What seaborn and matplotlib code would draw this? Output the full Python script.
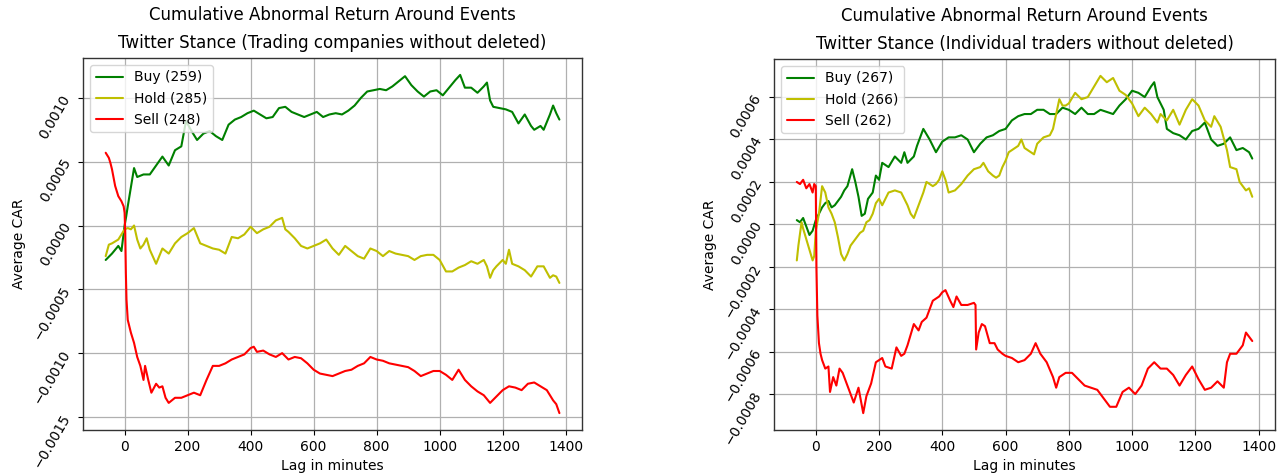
import matplotlib
matplotlib.use("Agg")
import matplotlib.pyplot as plt
import numpy as np
import pandas as pd
import seaborn as sns
from matplotlib.ticker import MultipleLocator


TITLE_TOP = "Cumulative Abnormal Return Around Events"
PANEL_TITLES = [
  "Twitter Stance (Trading companies without deleted)",
  "Twitter Stance (Individual traders without deleted)",
]
STANCES = ["Buy", "Hold", "Sell"]
COUNTS_LEFT = [259, 285, 248]
COUNTS_RIGHT = [267, 266, 262]
COLORS = ["g", "y", "r"]

# ---- left panel: trading companies ----
left_buy_x = [-60, -40, -20, -10, 0, 5, 10, 20, 30, 40, 60, 80, 100, 120, 140, 160, 180, 195,
              210, 230, 250, 270, 290, 310, 330, 350, 370, 390, 410, 430, 450, 470, 490, 510,
              530, 550, 570, 590, 610, 630, 650, 670, 690, 710, 730, 750, 770, 790, 810, 830,
              850, 870, 890, 910, 930, 950, 970, 990, 1010, 1030, 1050, 1065, 1080, 1100, 1120,
              1140, 1150, 1160, 1170, 1190, 1210, 1230, 1250, 1270, 1290, 1300, 1320, 1330,
              1350, 1360, 1370, 1380]
left_buy_y = [-0.00027, -0.00022, -0.00016, -0.00020, 0.00000, 0.00007, 0.00015, 0.00030,
              0.00045, 0.00038, 0.00040, 0.00040, 0.00047, 0.00054, 0.00047, 0.00059, 0.00062,
              0.00082, 0.00075, 0.00067, 0.00072, 0.00074, 0.00070, 0.00067, 0.00079, 0.00083,
              0.00085, 0.00088, 0.00090, 0.00087, 0.00084, 0.00085, 0.00092, 0.00093, 0.00089,
              0.00087, 0.00085, 0.00087, 0.00089, 0.00085, 0.00087, 0.00088, 0.00087, 0.00090,
              0.00094, 0.00100, 0.00105, 0.00106, 0.00107, 0.00106, 0.00109, 0.00113, 0.00117,
              0.00110, 0.00105, 0.00101, 0.00105, 0.00106, 0.00102, 0.00108, 0.00114, 0.00118,
              0.00108, 0.00108, 0.00104, 0.00109, 0.00112, 0.00098, 0.00093, 0.00092, 0.00091,
              0.00089, 0.00080, 0.00087, 0.00078, 0.00075, 0.00078, 0.00075, 0.00087, 0.00094,
              0.00088, 0.00083]

left_hold_x = [-60, -50, -40, -20, -10, 0, 10, 20, 30, 40, 50, 60, 70, 80, 100, 120, 140, 160,
               180, 200, 220, 240, 260, 280, 300, 320, 340, 360, 380, 400, 420, 440, 460, 480,
               500, 510, 520, 540, 560, 580, 600, 620, 640, 660, 680, 700, 720, 740, 760, 780,
               800, 820, 840, 860, 880, 900, 920, 940, 960, 980, 1000, 1020, 1040, 1060, 1080,
               1100, 1120, 1140, 1150, 1160, 1170, 1180, 1200, 1210, 1220, 1230, 1250, 1270,
               1290, 1310, 1330, 1350, 1360, 1370, 1380]
left_hold_y = [-0.00024, -0.00015, -0.00014, -0.00011, -0.00007, -0.00003, -0.00002, -0.00003,
               0.00000, -0.00011, -0.00018, -0.00015, -0.00010, -0.00019, -0.00030, -0.00018,
               -0.00022, -0.00014, -0.00009, -0.00006, -0.00002, -0.00014, -0.00016, -0.00018,
               -0.00019, -0.00022, -0.00009, -0.00010, -0.00007, -0.00001, -0.00006, -0.00003,
               -0.00001, 0.00004, 0.00006, -0.00003, -0.00005, -0.00010, -0.00016, -0.00018,
               -0.00016, -0.00014, -0.00011, -0.00018, -0.00023, -0.00016, -0.00020, -0.00024,
               -0.00026, -0.00018, -0.00020, -0.00024, -0.00020, -0.00022, -0.00023, -0.00024,
               -0.00027, -0.00024, -0.00023, -0.00023, -0.00027, -0.00036, -0.00036, -0.00033,
               -0.00031, -0.00028, -0.00030, -0.00027, -0.00032, -0.00041, -0.00035, -0.00032,
               -0.00027, -0.00030, -0.00019, -0.00030, -0.00032, -0.00035, -0.00040, -0.00032,
               -0.00032, -0.00041, -0.00039, -0.00040, -0.00045]

left_sell_x = [-60, -55, -50, -45, -40, -30, -20, -10, -3, 0, 2, 4, 6, 10, 15, 20, 30, 40, 50,
               60, 65, 75, 85, 100, 110, 120, 130, 140, 160, 180, 200, 220, 240, 260, 280, 300,
               320, 340, 360, 380, 400, 410, 420, 440, 460, 480, 500, 520, 540, 560, 580, 600,
               620, 640, 660, 680, 700, 720, 740, 760, 780, 800, 820, 840, 860, 880, 900, 920,
               940, 960, 980, 1000, 1020, 1040, 1060, 1080, 1100, 1120, 1140, 1160, 1180, 1200,
               1220, 1240, 1260, 1280, 1300, 1320, 1340, 1360, 1370, 1380]
left_sell_y = [0.00057, 0.00055, 0.00053, 0.00049, 0.00044, 0.00031, 0.00023, 0.00019, 0.00015,
               0.00010, -0.00006, -0.00037, -0.00058, -0.00074, -0.00079, -0.00084, -0.00092,
               -0.00103, -0.00110, -0.00121, -0.00110, -0.00121, -0.00131, -0.00124, -0.00127,
               -0.00126, -0.00135, -0.00139, -0.00135, -0.00135, -0.00133, -0.00131, -0.00133,
               -0.00121, -0.00110, -0.00110, -0.00108, -0.00105, -0.00103, -0.00101, -0.00096,
               -0.00095, -0.00099, -0.00098, -0.00101, -0.00103, -0.00100, -0.00105, -0.00103,
               -0.00104, -0.00108, -0.00113, -0.00116, -0.00117, -0.00118, -0.00116, -0.00114,
               -0.00113, -0.00110, -0.00108, -0.00103, -0.00105, -0.00106, -0.00108, -0.00109,
               -0.00110, -0.00111, -0.00114, -0.00118, -0.00116, -0.00114, -0.00114, -0.00117,
               -0.00121, -0.00113, -0.00121, -0.00126, -0.00130, -0.00133, -0.00139, -0.00134,
               -0.00129, -0.00126, -0.00127, -0.00129, -0.00124, -0.00123, -0.00126, -0.00129,
               -0.00137, -0.00140, -0.00147]

# ---- right panel: individual traders ----
right_buy_x = [-60, -50, -40, -30, -20, -10, 0, 10, 20, 30, 40, 50, 60, 70, 80, 90, 100, 115,
               125, 135, 145, 155, 165, 180, 190, 200, 210, 230, 250, 270, 280, 290, 310, 320,
               340, 360, 380, 400, 420, 440, 460, 480, 500, 520, 540, 560, 580, 600, 620, 640,
               660, 680, 700, 720, 740, 760, 780, 800, 820, 840, 860, 880, 900, 920, 940, 960,
               980, 1000, 1020, 1040, 1060, 1070, 1080, 1100, 1110, 1130, 1150, 1170, 1190,
               1210, 1230, 1250, 1270, 1290, 1310, 1330, 1350, 1370, 1380]
right_buy_y = [0.00002, 0.00001, 0.00003, -0.00001, -0.00005, -0.00003, 0.00002, 0.00005,
               0.00008, 0.00010, 0.00011, 0.00008, 0.00009, 0.00011, 0.00013, 0.00016, 0.00018,
               0.00026, 0.00020, 0.00013, 0.00004, 0.00005, 0.00012, 0.00015, 0.00023, 0.00021,
               0.00029, 0.00027, 0.00032, 0.00029, 0.00034, 0.00029, 0.00032, 0.00037, 0.00045,
               0.00040, 0.00034, 0.00039, 0.00041, 0.00041, 0.00042, 0.00040, 0.00034, 0.00038,
               0.00041, 0.00042, 0.00044, 0.00045, 0.00049, 0.00051, 0.00052, 0.00052, 0.00054,
               0.00054, 0.00052, 0.00052, 0.00055, 0.00054, 0.00052, 0.00055, 0.00052, 0.00052,
               0.00054, 0.00053, 0.00052, 0.00056, 0.00059, 0.00063, 0.00062, 0.00060, 0.00065,
               0.00067, 0.00060, 0.00054, 0.00045, 0.00043, 0.00042, 0.00040, 0.00044, 0.00045,
               0.00048, 0.00040, 0.00037, 0.00038, 0.00041, 0.00035, 0.00036, 0.00034, 0.00031]

right_hold_x = [-60, -55, -45, -40, -30, -20, -10, -5, 0, 10, 20, 30, 40, 50, 60, 70, 80, 90,
                100, 110, 120, 130, 140, 150, 160, 170, 180, 190, 200, 210, 230, 250, 270, 290,
                300, 310, 320, 330, 340, 350, 360, 370, 380, 390, 400, 410, 420, 440, 460, 480,
                500, 520, 530, 545, 560, 570, 580, 590, 600, 610, 620, 640, 650, 660, 680, 690,
                700, 720, 740, 750, 760, 770, 780, 790, 800, 820, 840, 860, 880, 900, 920, 940,
                960, 970, 980, 1000, 1020, 1040, 1060, 1080, 1090, 1110, 1130, 1150, 1170, 1190,
                1210, 1230, 1250, 1260, 1280, 1300, 1310, 1330, 1340, 1350, 1360, 1370, 1380]
right_hold_y = [-0.00017, -0.00010, 0.00001, -0.00002, -0.00007, -0.00012, -0.00017, -0.00015,
                -0.00003, 0.00005, 0.00018, 0.00015, 0.00008, 0.00005, 0.00001, -0.00006,
                -0.00014, -0.00017, -0.00014, -0.00010, -0.00008, -0.00006, -0.00004, -0.00003,
                0.00001, 0.00002, 0.00005, 0.00010, 0.00012, 0.00009, 0.00015, 0.00016, 0.00015,
                0.00009, 0.00005, 0.00003, 0.00007, 0.00011, 0.00015, 0.00020, 0.00019, 0.00018,
                0.00019, 0.00021, 0.00025, 0.00021, 0.00015, 0.00016, 0.00019, 0.00023, 0.00026,
                0.00027, 0.00029, 0.00025, 0.00023, 0.00022, 0.00023, 0.00027, 0.00030, 0.00034,
                0.00035, 0.00037, 0.00040, 0.00036, 0.00034, 0.00033, 0.00038, 0.00041, 0.00042,
                0.00045, 0.00052, 0.00059, 0.00056, 0.00056, 0.00057, 0.00062, 0.00059, 0.00060,
                0.00065, 0.00070, 0.00067, 0.00069, 0.00063, 0.00062, 0.00061, 0.00057, 0.00051,
                0.00055, 0.00052, 0.00048, 0.00052, 0.00049, 0.00054, 0.00047, 0.00054, 0.00059,
                0.00056, 0.00049, 0.00046, 0.00051, 0.00046, 0.00035, 0.00027, 0.00026, 0.00020,
                0.00018, 0.00016, 0.00017, 0.00013]

right_sell_x = [-60, -50, -40, -30, -20, -10, -5, 0, 2, 5, 10, 15, 20, 30, 40, 45, 55, 65, 75,
                85, 95, 105, 120, 135, 145, 150, 160, 175, 190, 200, 210, 220, 240, 255, 270,
                280, 290, 310, 325, 335, 350, 370, 390, 400, 410, 425, 435, 445, 460, 480, 500,
                505, 507, 515, 525, 535, 550, 565, 575, 590, 600, 620, 640, 660, 680, 695, 710,
                730, 750, 760, 770, 790, 810, 830, 850, 870, 890, 910, 930, 950, 970, 990, 1010,
                1030, 1050, 1070, 1090, 1110, 1130, 1150, 1170, 1190, 1210, 1230, 1250, 1270,
                1290, 1300, 1310, 1330, 1350, 1360, 1370, 1380]
right_sell_y = [0.00020, 0.00019, 0.00021, 0.00017, 0.00019, 0.00015, 0.00019, 0.00018,
                -0.00020, -0.00043, -0.00056, -0.00061, -0.00064, -0.00068, -0.00067, -0.00079,
                -0.00072, -0.00076, -0.00068, -0.00070, -0.00074, -0.00078, -0.00084, -0.00077,
                -0.00085, -0.00089, -0.00081, -0.00075, -0.00065, -0.00064, -0.00063, -0.00067,
                -0.00068, -0.00058, -0.00062, -0.00061, -0.00057, -0.00047, -0.00050, -0.00046,
                -0.00044, -0.00036, -0.00034, -0.00032, -0.00031, -0.00036, -0.00039, -0.00034,
                -0.00038, -0.00038, -0.00037, -0.00038, -0.00059, -0.00051, -0.00047, -0.00048,
                -0.00056, -0.00056, -0.00059, -0.00061, -0.00062, -0.00063, -0.00065, -0.00064,
                -0.00061, -0.00056, -0.00061, -0.00065, -0.00072, -0.00077, -0.00072, -0.00070,
                -0.00070, -0.00073, -0.00076, -0.00077, -0.00078, -0.00082, -0.00086, -0.00086,
                -0.00079, -0.00077, -0.00080, -0.00076, -0.00068, -0.00065, -0.00068, -0.00068,
                -0.00071, -0.00076, -0.00071, -0.00067, -0.00073, -0.00078, -0.00077, -0.00074,
                -0.00077, -0.00065, -0.00061, -0.00061, -0.00057, -0.00051, -0.00053, -0.00055]


def build_frame(series, counts):
  parts = []
  for (stance, xs, ys), n in zip(series, counts):
    parts.append(pd.DataFrame({
      "lag": xs,
      "car": ys,
      "stance": f"{stance} ({n})",
    }))
  return pd.concat(parts, ignore_index=True)


def draw_panel(ax, df, counts, title, ystep):
  labels = [f"{s} ({n})" for s, n in zip(STANCES, counts)]
  sns.lineplot(
    data=df, x="lag", y="car", hue="stance", hue_order=labels,
    palette=COLORS, estimator=None, sort=False, linewidth=1.5, ax=ax,
  )
  ax.set_title(TITLE_TOP + "\n" + title, fontsize=12, linespacing=1.75, pad=7)
  ax.set_xlabel("Lag in minutes", fontsize=10)
  ax.set_ylabel("Average CAR", fontsize=10)
  ax.xaxis.set_major_locator(MultipleLocator(200))
  ax.yaxis.set_major_locator(MultipleLocator(ystep))
  ax.margins(x=0.05, y=0.05)
  ax.grid(True, color="#b0b0b0", linewidth=0.9)
  ax.tick_params(axis="y", labelrotation=60, labelsize=10)
  ax.tick_params(axis="x", labelsize=10)
  ax.tick_params(bottom=True, left=True, direction="out", length=3.5, width=0.8,
                 color="k", labelcolor="k")
  for spine in ax.spines.values():
    spine.set_color("#333333")
    spine.set_linewidth(1.0)
  ax.legend(loc="upper left", fontsize=10, framealpha=0.8, edgecolor="#cccccc")


def main() -> None:
  sns.set_style("white")
  plt.rcParams["font.family"] = ["DejaVu Sans"]
  plt.rcParams["text.color"] = "black"
  plt.rcParams["axes.labelcolor"] = "black"

  fig = plt.figure(figsize=(12.83, 4.75), dpi=100)
  ax_left = fig.add_axes([0.0647, 0.0947, 0.389, 0.7832])
  ax_right = fig.add_axes([0.6033, 0.0947, 0.3905, 0.7811])

  left_df = build_frame(
    [("Buy", left_buy_x, left_buy_y),
     ("Hold", left_hold_x, left_hold_y),
     ("Sell", left_sell_x, left_sell_y)],
    COUNTS_LEFT,
  )
  right_df = build_frame(
    [("Buy", right_buy_x, right_buy_y),
     ("Hold", right_hold_x, right_hold_y),
     ("Sell", right_sell_x, right_sell_y)],
    COUNTS_RIGHT,
  )

  draw_panel(ax_left, left_df, COUNTS_LEFT, PANEL_TITLES[0], 0.0005)
  draw_panel(ax_right, right_df, COUNTS_RIGHT, PANEL_TITLES[1], 0.0002)

  fig.savefig("out.png", dpi=100)
  plt.close(fig)


if __name__ == "__main__":
  main()
